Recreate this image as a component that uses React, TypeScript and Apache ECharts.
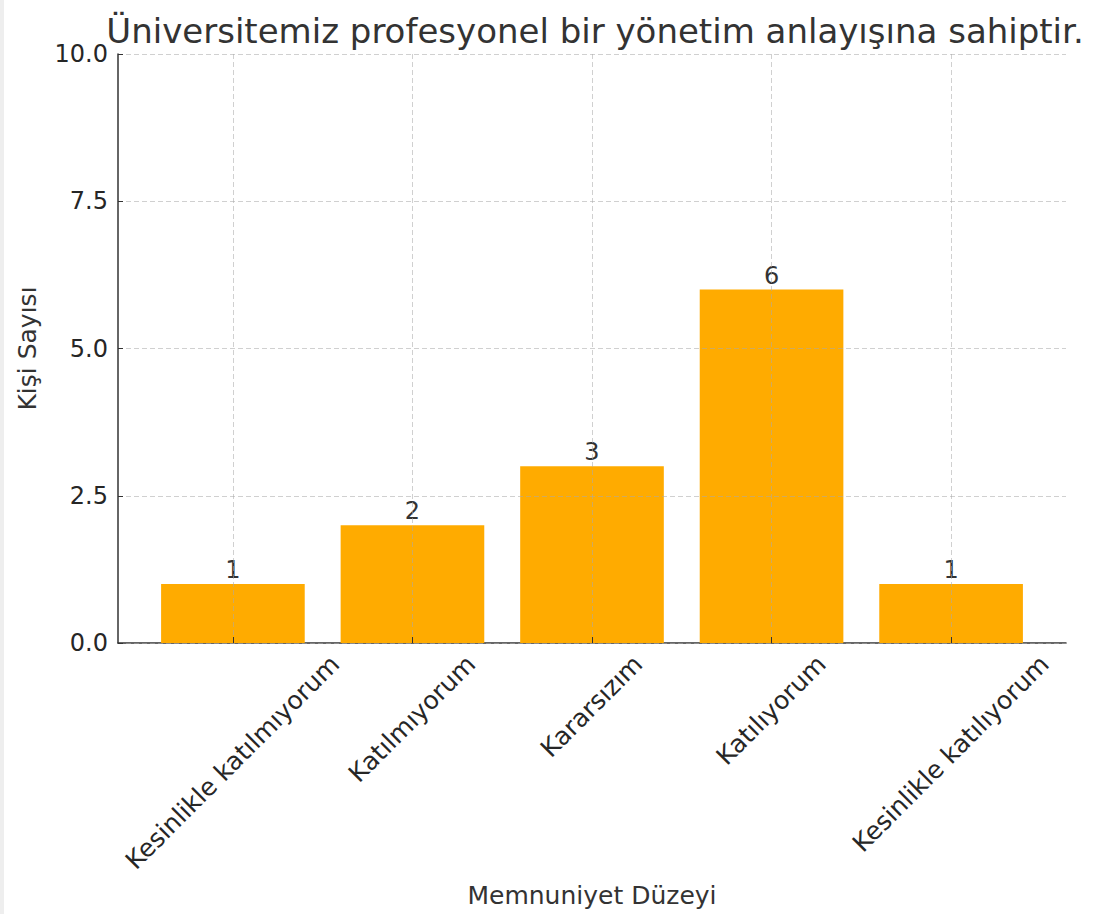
import React, { useEffect, useRef } from "react";
import * as echarts from "echarts";

const title = "Üniversitemiz profesyonel bir yönetim anlayışına sahiptir.";
const categories = [
  "Kesinlikle katılmıyorum",
  "Katılmıyorum",
  "Kararsızım",
  "Katılıyorum",
  "Kesinlikle katılıyorum",
];
const values = [1, 2, 3, 6, 1];
const yMin = 0;
const yMax = 10;
const yStep = 2.5;
const xName = "Memnuniyet Düzeyi";
const yName = "Kişi Sayısı";

const W = 1094;
const H = 914;
const plotLeft = 118;
const plotRight = 1066;
const plotTop = 54;
const plotBottom = 643;
const FONT = '"DejaVu Sans", sans-serif';
const LABEL_SIZE = 24;
const CAT_SIZE = 25;

export default function App() {
  const ref = useRef<HTMLDivElement>(null);
  useEffect(() => {
    if (!ref.current) return;
    const chart = echarts.init(ref.current, undefined, { renderer: "svg" });
    const n = categories.length;
    const span = n + 0.28; // matplotlib default margins around bars
    const unit = (plotRight - plotLeft) / span;
    const firstTick = plotLeft + 0.64 * unit;
    const lastTick = firstTick + (n - 1) * unit;
    const gridLine = { show: true, lineStyle: { color: "rgba(170,170,170,0.55)", type: [5, 3], width: 1 } };
    chart.setOption({
      animation: false,
      backgroundColor: "#ffffff",
      title: {
        text: title,
        left: (plotLeft + plotRight) / 2 - 2,
        textAlign: "center",
        top: 9,
        textStyle: { fontFamily: FONT, fontSize: 34, fontWeight: "normal", color: "#333333" },
      },
      grid: [
        { left: plotLeft, right: W - plotRight, top: plotTop, bottom: H - plotBottom },
        { left: firstTick, right: W - lastTick, top: plotTop, bottom: H - plotBottom },
      ],
      xAxis: [
        {
          gridIndex: 0,
          type: "value",
          min: 0,
          max: 1,
          axisLine: { show: true, onZero: false, lineStyle: { color: "#333333", width: 1.5 } },
          axisTick: { show: false },
          axisLabel: { show: false },
          splitLine: { show: false },
          name: xName,
          nameLocation: "middle",
          nameGap: 240,
          nameTextStyle: { fontFamily: FONT, fontSize: 25, color: "#333333" },
        },
        {
          gridIndex: 1,
          type: "category",
          data: categories,
          boundaryGap: false,
          z: 5,
          axisLine: { show: false },
          axisTick: { show: true, inside: true, length: 6, lineStyle: { color: "#333333" } },
          axisLabel: { show: false },
          splitLine: gridLine,
        },
      ],
      yAxis: [
        {
          gridIndex: 0,
          type: "value",
          min: yMin,
          max: yMax,
          interval: yStep,
          z: 5,
          axisLine: { show: true, lineStyle: { color: "#333333", width: 1.5 } },
          axisTick: { show: true, inside: true, length: 5, lineStyle: { color: "#333333" } },
          axisLabel: {
            formatter: (v: number) => v.toFixed(1),
            fontFamily: FONT,
            fontSize: LABEL_SIZE,
            color: "#262626",
            margin: 10,
          },
          splitLine: gridLine,
          name: yName,
          nameLocation: "middle",
          nameRotate: 90,
          nameGap: 78,
          nameTextStyle: { fontFamily: FONT, fontSize: 25, color: "#333333" },
        },
        {
          gridIndex: 1,
          type: "value",
          min: yMin,
          max: yMax,
          show: false,
          splitLine: { show: false },
        },
      ],
      series: [
        {
          type: "bar",
          xAxisIndex: 1,
          yAxisIndex: 1,
          data: values,
          barWidth: 0.8 * unit,
          clip: false,
          itemStyle: { color: "#ffab00" },
          label: {
            show: true,
            position: "top",
            distance: 2,
            fontFamily: FONT,
            fontSize: LABEL_SIZE,
            color: "#333333",
          },
        },
      ],
    });

    // rotated category labels, centred under each tick like matplotlib's ha="center"
    const canvas = document.createElement("canvas");
    const ctx = canvas.getContext("2d")!;
    ctx.font = `${CAT_SIZE}px ${FONT}`;
    const c = Math.SQRT1_2;
    const labels = categories.map((cat) => {
      const [px] = chart.convertToPixel({ xAxisIndex: 1, yAxisIndex: 1 } as any, [cat, 0]) as number[];
      const L = ctx.measureText(cat).width;
      const h = CAT_SIZE * 1.05;
      return {
        type: "text",
        x: px + (L - h) * c / 2,
        y: plotBottom + 8,
        rotation: Math.PI / 4,
        style: {
          text: cat,
          fontFamily: FONT,
          fontSize: CAT_SIZE,
          fill: "#262626",
          align: "right",
          verticalAlign: "top",
        },
      };
    });
    chart.setOption({
      graphic: [
        { type: "rect", left: 0, top: 0, shape: { width: 4, height: H }, style: { fill: "#eeeeee" } },
        ...labels,
      ],
    });
    return () => chart.dispose();
  }, []);
  return (
    <div
      ref={ref}
      style={{ position: "fixed", left: 0, top: 0, width: W, height: H }}
    />
  );
}
